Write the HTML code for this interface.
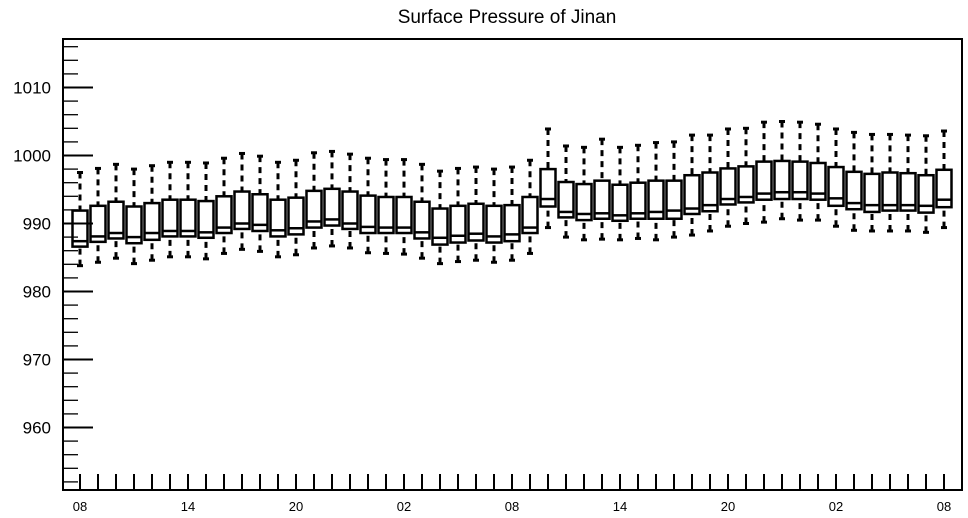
<!DOCTYPE html>
<html><head><meta charset="utf-8"><style>
html,body{margin:0;padding:0;background:#fff;}
svg{display:block;font-family:"Liberation Sans",sans-serif;}
</style></head><body>
<svg id="chart" width="968" height="518" viewBox="0 0 968 518">
<text x="507" y="23" font-size="19" text-anchor="middle">Surface Pressure of Jinan</text>
<g id="marks"></g>
<g id="axes"></g>
</svg>
<script>
const xLabels = ["08","14","20","02","08","14","20","02","08"];
const yTicks = [960,970,980,990,1000,1010];
const wMax = [997.5,998.1,998.7,998.0,998.5,999.0,999.0,998.9,999.6,1000.3,999.9,999.0,999.3,1000.4,1000.6,1000.2,999.6,999.4,999.4,998.7,997.7,998.1,998.3,998.0,998.3,999.3,1003.9,1001.4,1001.2,1002.4,1001.2,1001.5,1001.9,1002.0,1003.0,1003.0,1003.9,1004.0,1004.9,1005.0,1004.9,1004.6,1003.9,1003.4,1003.1,1003.1,1003.0,1002.9,1003.6];
const q3 = [991.9,992.6,993.2,992.5,993.0,993.5,993.5,993.3,994.0,994.7,994.3,993.5,993.8,994.8,995.1,994.7,994.1,993.9,993.9,993.2,992.2,992.6,992.9,992.6,992.7,993.9,998.0,996.1,995.8,996.3,995.7,996.0,996.3,996.3,997.1,997.5,998.1,998.4,999.1,999.2,999.1,998.9,998.3,997.6,997.3,997.5,997.4,997.1,997.9];
const med = [987.4,988.1,988.6,988.0,988.6,988.9,988.9,988.7,989.4,990.0,989.8,989.0,989.3,990.3,990.6,990.0,989.5,989.4,989.4,988.7,987.9,988.2,988.5,988.1,988.4,989.4,993.6,991.7,991.4,991.5,991.2,991.5,991.7,991.9,992.2,992.7,993.6,993.9,994.4,994.6,994.6,994.4,993.7,993.0,992.7,992.7,992.7,992.6,993.5];
const q1 = [986.6,987.3,987.8,987.1,987.6,988.1,988.1,987.9,988.6,989.2,988.9,988.1,988.4,989.4,989.7,989.2,988.6,988.6,988.6,987.8,986.9,987.2,987.5,987.2,987.4,988.6,992.5,990.9,990.5,990.7,990.4,990.7,990.7,990.7,991.4,991.8,992.8,993.1,993.5,993.6,993.6,993.5,992.6,992.1,991.7,991.9,991.9,991.6,992.4];
const wMin = [983.8,984.3,984.9,984.1,984.6,985.1,985.1,984.8,985.6,986.2,985.9,985.1,985.4,986.4,986.7,986.4,985.7,985.6,985.5,984.9,984.1,984.4,984.6,984.3,984.6,985.6,989.4,988.0,987.6,987.7,987.6,987.8,987.6,988.0,988.3,988.9,989.6,990.0,990.2,990.7,990.5,990.5,989.6,989.0,988.9,988.9,988.9,988.7,989.4];

const NS="http://www.w3.org/2000/svg";
const L=63,R=962,T=39,B=490;
const y=v=>223.5-(v-990)*6.8;
const x=i=>80+i*18;
const marks=document.getElementById('marks'), axes=document.getElementById('axes');
function mk(tag,attrs,parent){const e=document.createElementNS(NS,tag);for(const k in attrs)e.setAttribute(k,attrs[k]);parent.appendChild(e);return e;}

const frame=mk('rect',{x:L,y:T,width:R-L,height:B-T,fill:'none',stroke:'#000','stroke-width':2},axes);



for(let v=952;v<=1016;v+=2){
  const major=yTicks.includes(v);
  const t=mk('line',{x1:L,x2:L+(major?30:15),y1:y(v),y2:y(v),stroke:'#000','stroke-width':major?2:1.3},axes);
  
  
}
yTicks.forEach(v=>{
  const t=mk('text',{x:51,y:y(v)+6,'font-size':17,'text-anchor':'end'},axes);
  t.textContent=v;
  
  
});
for(let i=0;i<wMax.length;i++){
  const t=mk('line',{x1:x(i),x2:x(i),y1:B,y2:B-16,stroke:'#000','stroke-width':2},axes);
  
  
}
xLabels.forEach((s,k)=>{
  const t=mk('text',{x:x(k*6),y:511,'font-size':13,'text-anchor':'middle'},axes);
  t.textContent=s;
  
  
});

for(let i=0;i<wMax.length;i++){
  const g=mk('g',{},marks);
  
  
  const cx=x(i);
  mk('line',{x1:cx,x2:cx,y1:y(wMax[i]),y2:y(q3[i]),stroke:'#000','stroke-width':3,'stroke-dasharray':'6,5'},g);
  mk('line',{x1:cx,x2:cx,y1:y(wMin[i]),y2:y(q1[i]),stroke:'#000','stroke-width':3,'stroke-dasharray':'6,5'},g);
  mk('line',{x1:cx-3,x2:cx+3,y1:y(wMax[i]),y2:y(wMax[i]),stroke:'#000','stroke-width':3},g);
  mk('line',{x1:cx-3,x2:cx+3,y1:y(wMin[i]),y2:y(wMin[i]),stroke:'#000','stroke-width':3},g);
  mk('rect',{x:cx-7.5,y:y(q3[i]),width:15,height:y(q1[i])-y(q3[i]),fill:'#fff',stroke:'#000','stroke-width':2.5},g);
  mk('line',{x1:cx-7.5,x2:cx+7.5,y1:y(med[i]),y2:y(med[i]),stroke:'#000','stroke-width':2.5},g);
}
</script>
</body></html>
